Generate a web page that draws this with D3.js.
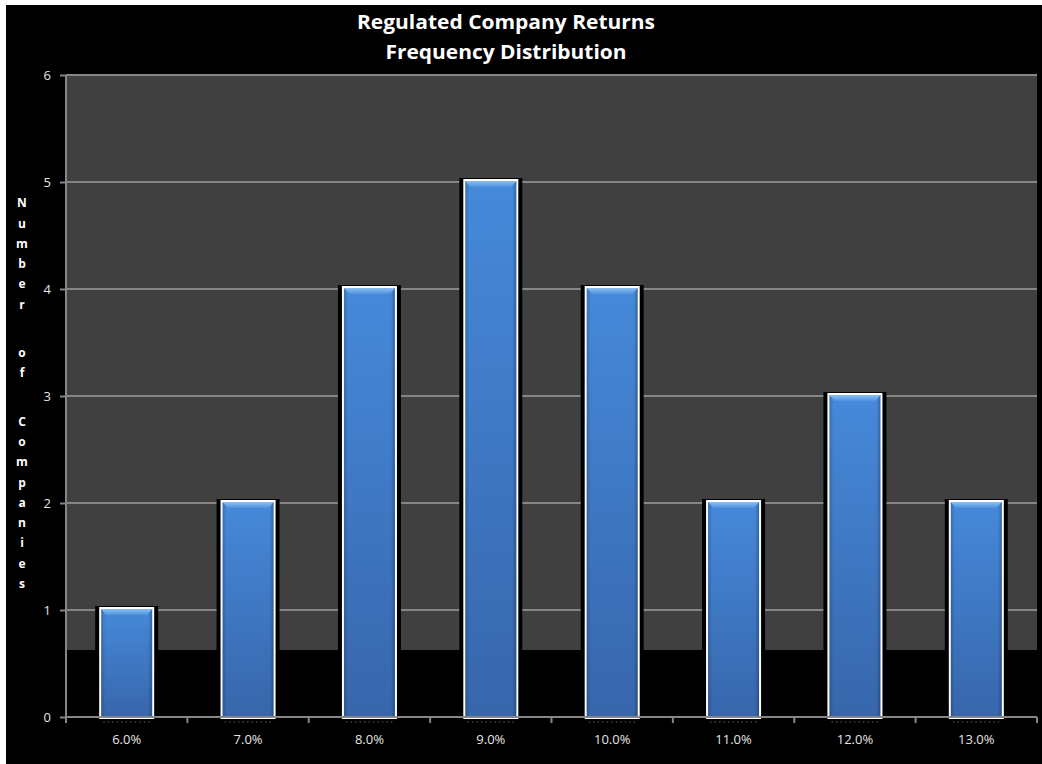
<!DOCTYPE html>
<html>
<head>
<meta charset="utf-8">
<script src="https://cdn.jsdelivr.net/npm/d3@7"></script>
<style>
  html, body { margin: 0; padding: 0; background: #fff; }
  svg { display: block; }
</style>
</head>
<body>
<svg id="chart" width="1042" height="764"></svg>
<script>
const titleLines = ["Regulated Company Returns", "Frequency Distribution"];
const categories = ["6.0%", "7.0%", "8.0%", "9.0%", "10.0%", "11.0%", "12.0%", "13.0%"];
const counts = [1, 2, 4, 5, 4, 2, 3, 2];
const yTicks = [0, 1, 2, 3, 4, 5, 6];
const yLabelWords = ["Number", "of", "Companies"];

const W = 1042, H = 764;
const margin = { left: 66, right: 5, top: 75, bottom: 47 };
const plotL = margin.left, plotR = W - margin.right, plotT = margin.top, plotB = H - margin.bottom;

const svg = d3.select("#chart");
const defs = svg.append("defs");

// background
svg.append("rect").attr("x", 0).attr("y", 0).attr("width", W).attr("height", H).attr("fill", "#fff");
svg.append("rect").attr("x", 6).attr("y", 5).attr("width", W - 6).attr("height", H - 5).attr("fill", "#000");

const x = d3.scaleBand().domain(categories).range([plotL, plotR]).paddingInner(0).paddingOuter(0);
const y = d3.scaleLinear().domain([0, 6]).range([plotB, plotT]);

// gray back wall (ends above the floor)
svg.append("rect").attr("x", plotL).attr("y", plotT).attr("width", plotR - plotL)
  .attr("height", 650 - plotT).attr("fill", "#404040");

// gridlines
svg.append("g").selectAll("line").data(yTicks.filter(d => d > 0)).join("line")
  .attr("x1", plotL).attr("x2", plotR)
  .attr("y1", d => y(d)).attr("y2", d => y(d))
  .attr("stroke", "#868686").attr("stroke-width", 2);

// gradients
const gBlue = defs.append("linearGradient").attr("id", "blue").attr("x1", 0).attr("y1", 0).attr("x2", 0).attr("y2", 1);
gBlue.append("stop").attr("offset", "0%").attr("stop-color", "#4689da");
gBlue.append("stop").attr("offset", "100%").attr("stop-color", "#3766ab");
const gSide = defs.append("linearGradient").attr("id", "side").attr("x1", 0).attr("y1", 0).attr("x2", 1).attr("y2", 0);
gSide.append("stop").attr("offset", "0%").attr("stop-color", "#000").attr("stop-opacity", 0.18);
gSide.append("stop").attr("offset", "8%").attr("stop-color", "#000").attr("stop-opacity", 0);
gSide.append("stop").attr("offset", "92%").attr("stop-color", "#000").attr("stop-opacity", 0);
gSide.append("stop").attr("offset", "100%").attr("stop-color", "#000").attr("stop-opacity", 0.25);
const gTop = defs.append("linearGradient").attr("id", "topbev").attr("x1", 0).attr("y1", 0).attr("x2", 0).attr("y2", 1);
gTop.append("stop").attr("offset", "0%").attr("stop-color", "#8cc0f4");
gTop.append("stop").attr("offset", "100%").attr("stop-color", "#4f92de");

const barW = 51;   // blue fill width
const bars = svg.append("g").selectAll("g").data(counts).join("g");
const cx = (d, i) => x(categories[i]) + x.bandwidth() / 2;

// black surround
bars.append("rect")
  .attr("x", (d, i) => cx(d, i) - barW / 2 - 6)
  .attr("y", d => y(d) - 4)
  .attr("width", barW + 12)
  .attr("height", d => plotB - y(d) + 4)
  .attr("fill", "#000");
// white border
bars.append("rect")
  .attr("x", (d, i) => cx(d, i) - barW / 2 - 2)
  .attr("y", d => y(d) - 3)
  .attr("width", barW + 4)
  .attr("height", d => plotB - y(d) + 5)
  .attr("fill", "#fff");
// blue body
bars.append("rect")
  .attr("x", (d, i) => cx(d, i) - barW / 2)
  .attr("y", d => y(d) - 1)
  .attr("width", barW)
  .attr("height", d => plotB - y(d) + 1)
  .attr("fill", "url(#blue)");
bars.append("rect")
  .attr("x", (d, i) => cx(d, i) - barW / 2)
  .attr("y", d => y(d) - 1)
  .attr("width", barW)
  .attr("height", d => plotB - y(d) + 1)
  .attr("fill", "url(#side)");
// top bevel
bars.append("path")
  .attr("d", (d, i) => {
    const l = cx(d, i) - barW / 2, r = l + barW, t = y(d) - 1;
    return `M${l},${t}L${r},${t}L${r - 5},${t + 6}L${l + 5},${t + 6}Z`;
  })
  .attr("fill", "url(#topbev)");
// dotted reflection below
bars.append("line")
  .attr("x1", (d, i) => cx(d, i) - barW / 2 + 2)
  .attr("x2", (d, i) => cx(d, i) + barW / 2 - 2)
  .attr("y1", plotB + 5).attr("y2", plotB + 5)
  .attr("stroke", "#666").attr("stroke-width", 1.2).attr("stroke-dasharray", "1.5,3");

// y axis
const yAxis = svg.append("g").attr("transform", `translate(${plotL},0)`)
  .call(d3.axisLeft(y).tickValues(yTicks).tickSize(6).tickPadding(6).tickFormat(d3.format("d")));
yAxis.select(".domain").attr("stroke", "#868686").attr("stroke-width", 2).attr("d", `M0,${plotT}V${plotB}`);
yAxis.selectAll(".tick line").attr("stroke", "#868686").attr("stroke-width", 2);
yAxis.selectAll(".tick text").attr("fill", "#e6e6e6").attr("font-family", "'Open Sans', sans-serif").attr("font-size", 13).attr("dx", -3);

// x axis
const xAxis = svg.append("g").attr("transform", `translate(0,${plotB})`)
  .call(d3.axisBottom(x).tickSize(0).tickPadding(18));
xAxis.select(".domain").attr("stroke", "#868686").attr("stroke-width", 2).attr("d", `M${plotL},0H${plotR}`);
xAxis.selectAll(".tick text").attr("fill", "#e6e6e6").attr("font-family", "'Open Sans', sans-serif").attr("font-size", 13);
// boundary tick marks
const bounds = categories.map(c => x(c)).concat([plotR]);
svg.append("g").selectAll("line").data(bounds).join("line")
  .attr("x1", d => d).attr("x2", d => d)
  .attr("y1", plotB).attr("y2", plotB + 6)
  .attr("stroke", "#868686").attr("stroke-width", 2);

// title
const title = svg.append("g").attr("font-family", "'Open Sans', sans-serif").attr("font-weight", "bold")
  .attr("fill", "#fff").attr("text-anchor", "middle");
const tWidths = [298, 241];
title.selectAll("text").data(titleLines).join("text")
  .attr("x", 506).attr("y", (d, i) => 29 + i * 30)
  .attr("font-size", 20)
  .attr("textLength", (d, i) => tWidths[i]).attr("lengthAdjust", "spacingAndGlyphs")
  .text(d => d);

// stacked y label: one letter per line, extra gap between words
const letterStep = 20.3, wordGap = 28;
const letters = [];
let pos = 203;
yLabelWords.forEach((w, wi) => {
  if (wi > 0) pos += wordGap;
  [...w].forEach(ch => { letters.push({ ch, y: pos }); pos += letterStep; });
});
svg.append("g").selectAll("text").data(letters).join("text")
  .attr("x", 22).attr("y", d => d.y).attr("dy", "0.35em")
  .attr("text-anchor", "middle")
  .attr("font-family", "'Open Sans', sans-serif").attr("font-weight", "bold").attr("font-size", 12)
  .attr("fill", "#fff")
  .text(d => d.ch);
</script>
</body>
</html>
